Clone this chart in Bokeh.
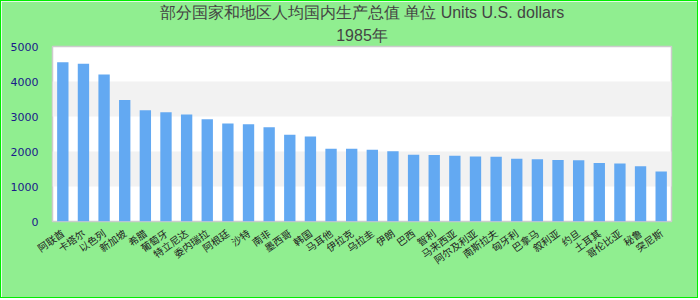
from bokeh.plotting import figure
from bokeh.embed import file_html
from bokeh.resources import INLINE
from bokeh.models import ColumnDataSource, FixedTicker, Title

title_line1 = "部分国家和地区人均国内生产总值 单位 Units U.S. dollars"
title_line2 = "1985年"

categories = ["阿联酋", "卡塔尔", "以色列", "新加坡", "希腊", "葡萄牙", "特立尼达", "委内瑞拉",
              "阿根廷", "沙特", "南非", "墨西哥", "韩国", "马耳他", "伊拉克", "乌拉圭",
              "伊朗", "巴西", "智利", "马来西亚", "阿尔及利亚", "南斯拉夫", "匈牙利", "巴拿马",
              "叙利亚", "约旦", "土耳其", "哥伦比亚", "秘鲁", "突尼斯"]
values = [4550, 4510, 4200, 3470, 3180, 3120, 3060, 2920, 2800, 2780,
          2690, 2480, 2430, 2080, 2080, 2050, 2010, 1910, 1900, 1880,
          1860, 1850, 1790, 1780, 1760, 1750, 1670, 1660, 1580, 1430]
y_ticks = [0, 1000, 2000, 3000, 4000, 5000]

src = ColumnDataSource(dict(cat=categories, val=values))

p = figure(x_range=categories, y_range=(0, 5000), width=698, height=298, title=None,
           output_backend="svg", toolbar_location=None,
           min_border_left=51, min_border_right=28, min_border_top=4, min_border_bottom=78,
           styles={"border": "1px solid #00ee00"})

for txt, so in [(title_line2, 6), (title_line1, 1)]:
    t = Title(text=txt, align="center", text_font="Liberation Sans", text_font_size="16px",
              text_font_style="normal", text_color="#444444", standoff=so)
    p.add_layout(t, "above")

p.vbar(x="cat", top="val", width=0.55, source=src, color="#63a9f2", line_color=None)

p.background_fill_color = "white"
p.border_fill_color = "#90ee90"
p.outline_line_color = "#cccccc"
p.outline_line_width = 1.5

p.yaxis.ticker = FixedTicker(ticks=y_ticks)
p.ygrid.ticker = FixedTicker(ticks=y_ticks)
p.ygrid.grid_line_color = None
p.ygrid.band_fill_color = "#f2f2f2"
p.ygrid.band_fill_alpha = 1.0
p.xgrid.grid_line_color = None

p.yaxis.axis_line_color = None
p.yaxis.major_tick_line_color = None
p.yaxis.minor_tick_line_color = None
p.yaxis.major_label_text_color = "#1a1a8a"
p.yaxis.major_label_text_font = "DejaVu Sans"
p.yaxis.major_label_text_font_size = "11px"
p.yaxis.major_label_standoff = 8

p.xaxis.axis_line_color = None
p.xaxis.major_tick_line_color = None
p.xaxis.minor_tick_line_color = None
p.xaxis.major_label_orientation = 0.62
p.xaxis.major_label_text_font = "Noto Sans CJK SC"
p.xaxis.major_label_text_font_size = "10px"
p.xaxis.major_label_text_color = "#222222"
p.xaxis.major_label_standoff = 4

open("out.html", "w").write(file_html(p, INLINE))
